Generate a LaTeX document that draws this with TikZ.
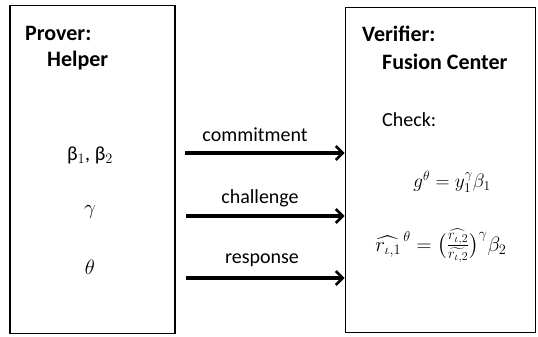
\documentclass[tikz,border=0pt]{standalone}
\usepackage{amsmath}
\usepackage{graphicx}
\usepackage{fontspec}
\setmainfont{Carlito}
\usetikzlibrary{arrows.meta}
\begin{document}
\begin{tikzpicture}[x=1pt,y=-1pt,
  party/.style={draw=black,line width=1.8pt,inner sep=0pt},
  title/.style={font=\bfseries\fontsize{22}{24}\selectfont,anchor=west,inner sep=0pt},
  txt/.style={font=\fontsize{20}{22}\selectfont,inner sep=0pt},
  msg/.style={line width=3.2pt,-{Straight Barb[length=7pt,width=14pt,line width=2.6pt]}},
  eq/.style={font=\fontsize{17.28}{20}\selectfont,inner sep=0pt},
  bigeq/.style={font=\fontsize{20.74}{24}\selectfont,inner sep=0pt}]
\useasboundingbox (0,0) rectangle (538,337);
\node[party,minimum width=165pt,minimum height=328pt] (L) at (92.5,169.5) {};
\node[party,minimum width=190pt,minimum height=325pt] (R) at (440.5,170) {};
\node[title] (pt) at (25,33) {Prover:};
\node[title] (ph) at (47,61) {Helper};
\node[title] (vt) at (362,34) {Verifier:};
\node[title] (vh) at (382,62) {Fusion Center};
\node[txt,anchor=west] (chk) at (382,120) {Check:};
\node[txt] (b) at (90,155) {β$_1$, β$_2$};
\node[bigeq] (g) at (90,212) {$\gamma$};
\node[bigeq] (t) at (90,267) {$\theta$};
\node[eq] (e1) at (452,182) {\scalebox{1.12}{$g^{\theta} = y_1^{\gamma}\beta_1$}};
\node[bigeq] (e2) at (441,246) {$\widehat{r_{\iota,1}}^{\,\theta} = \bigl(\frac{\widehat{r_{\iota,2}}}{\widetilde{r_{\iota,2}}}\bigr)^{\gamma}\beta_2$};
\coordinate (a1) at (185,153);
\coordinate (a2) at (186,216);
\coordinate (a3) at (186,278);
\draw[msg] (a1) -- (a1 -| R.west);
\draw[msg] (a2) -- (a2 -| R.west);
\draw[msg] (a3) -- (a3 -| R.west);
\node[txt] (m1) at (255,135) {commitment};
\node[txt] (m2) at (260,198) {challenge};
\node[txt] (m3) at (262,260) {response};
\end{tikzpicture}
\end{document}
